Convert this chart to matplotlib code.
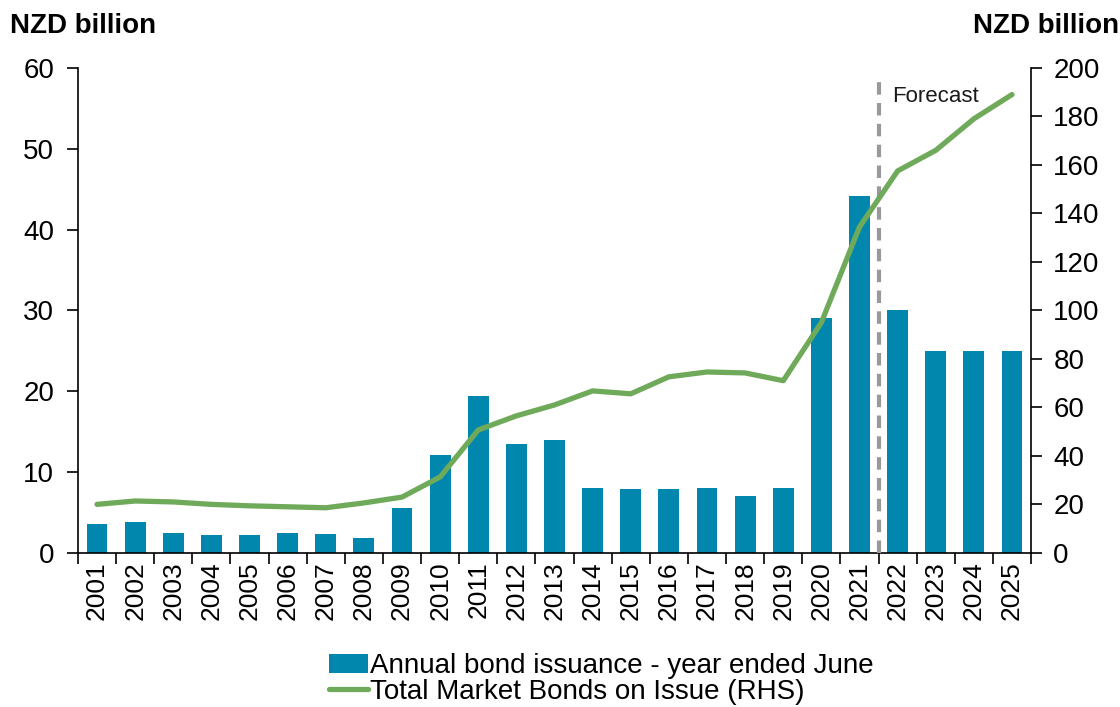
import matplotlib
matplotlib.use('Agg')
import matplotlib.pyplot as plt
import numpy as np

plt.rcParams['font.family'] = ['Liberation Sans', 'DejaVu Sans']

years = [str(y) for y in range(2001, 2026)]
issuance = [3.6, 3.8, 2.5, 2.2, 2.2, 2.4, 2.3, 1.9, 5.6, 12.1, 19.4, 13.5, 14.0,
            8.0, 7.9, 7.9, 8.0, 7.0, 8.0, 29.1, 44.2, 30.0, 25.0, 25.0, 25.0]
bonds_on_issue = [20.0, 21.4, 21.0, 20.0, 19.4, 19.0, 18.6, 20.6, 23.0, 31.3, 50.7,
                  56.5, 61.0, 66.8, 65.6, 72.6, 74.6, 74.2, 71.0, 95.0, 134.4,
                  157.5, 166.0, 179.0, 189.0]

BAR = '#0187AD'
LINE = '#6FAA5A'

fig = plt.figure(figsize=(11.2, 7.07), dpi=100)
ax = fig.add_axes([0.0696, 0.218, 0.851, 0.686])
x = np.arange(len(years))
bars = ax.bar(x, issuance, width=0.55, color=BAR, label='Annual bond issuance - year ended June', zorder=2)
ax.set_xlim(-0.5, len(years) - 0.5)
ax.set_ylim(0, 60)
ax.set_yticks(range(0, 61, 10))

ax2 = ax.twinx()
line, = ax2.plot(x, bonds_on_issue, color=LINE, lw=3.8, solid_capstyle='round',
                 label='Total Market Bonds on Issue (RHS)', zorder=3)
ax2.set_ylim(0, 200)
ax2.set_yticks(range(0, 201, 20))

# forecast divider
ax.plot([20.5, 20.5], [0, 58.2], ls=(0, (3, 2)), color='#999999', lw=3, zorder=4, clip_on=False)
ax.text(20.85, 56.4, 'Forecast', fontsize=16, ha='left', va='center', color='#1a1a1a')

# x ticks at category boundaries
ax.set_xticks(x)
ax.set_xticklabels(years, rotation=90, fontsize=19)
ax.tick_params(axis='x', length=0, pad=6)
ax.set_xticks(np.arange(-0.5, len(years)), minor=True)
ax.tick_params(axis='x', which='minor', length=8, width=1.2, direction='out')

for a in (ax, ax2):
    a.spines['top'].set_visible(False)
    for s in a.spines.values():
        s.set_linewidth(1.2)
ax.spines['right'].set_visible(False)
ax2.spines['left'].set_visible(False)
ax2.spines['bottom'].set_visible(False)
ax.tick_params(axis='y', labelsize=20, length=8, width=1.2, pad=9)
ax2.tick_params(axis='y', labelsize=20, length=8, width=1.2, pad=8)

fig.text(0.009, 0.963, 'NZD billion', fontsize=20, fontweight='bold', ha='left', va='center')
fig.text(0.999, 0.963, 'NZD billion', fontsize=20, fontweight='bold', ha='right', va='center')

fig.legend([bars, line], [bars.get_label(), line.get_label()], loc='upper center',
           bbox_to_anchor=(0.537, 0.096), frameon=False, fontsize=20,
           handlelength=1.4, handleheight=0.7, handletextpad=0.1, labelspacing=0.0, borderpad=0)

fig.savefig('out.png', dpi=100)
plt.close()
